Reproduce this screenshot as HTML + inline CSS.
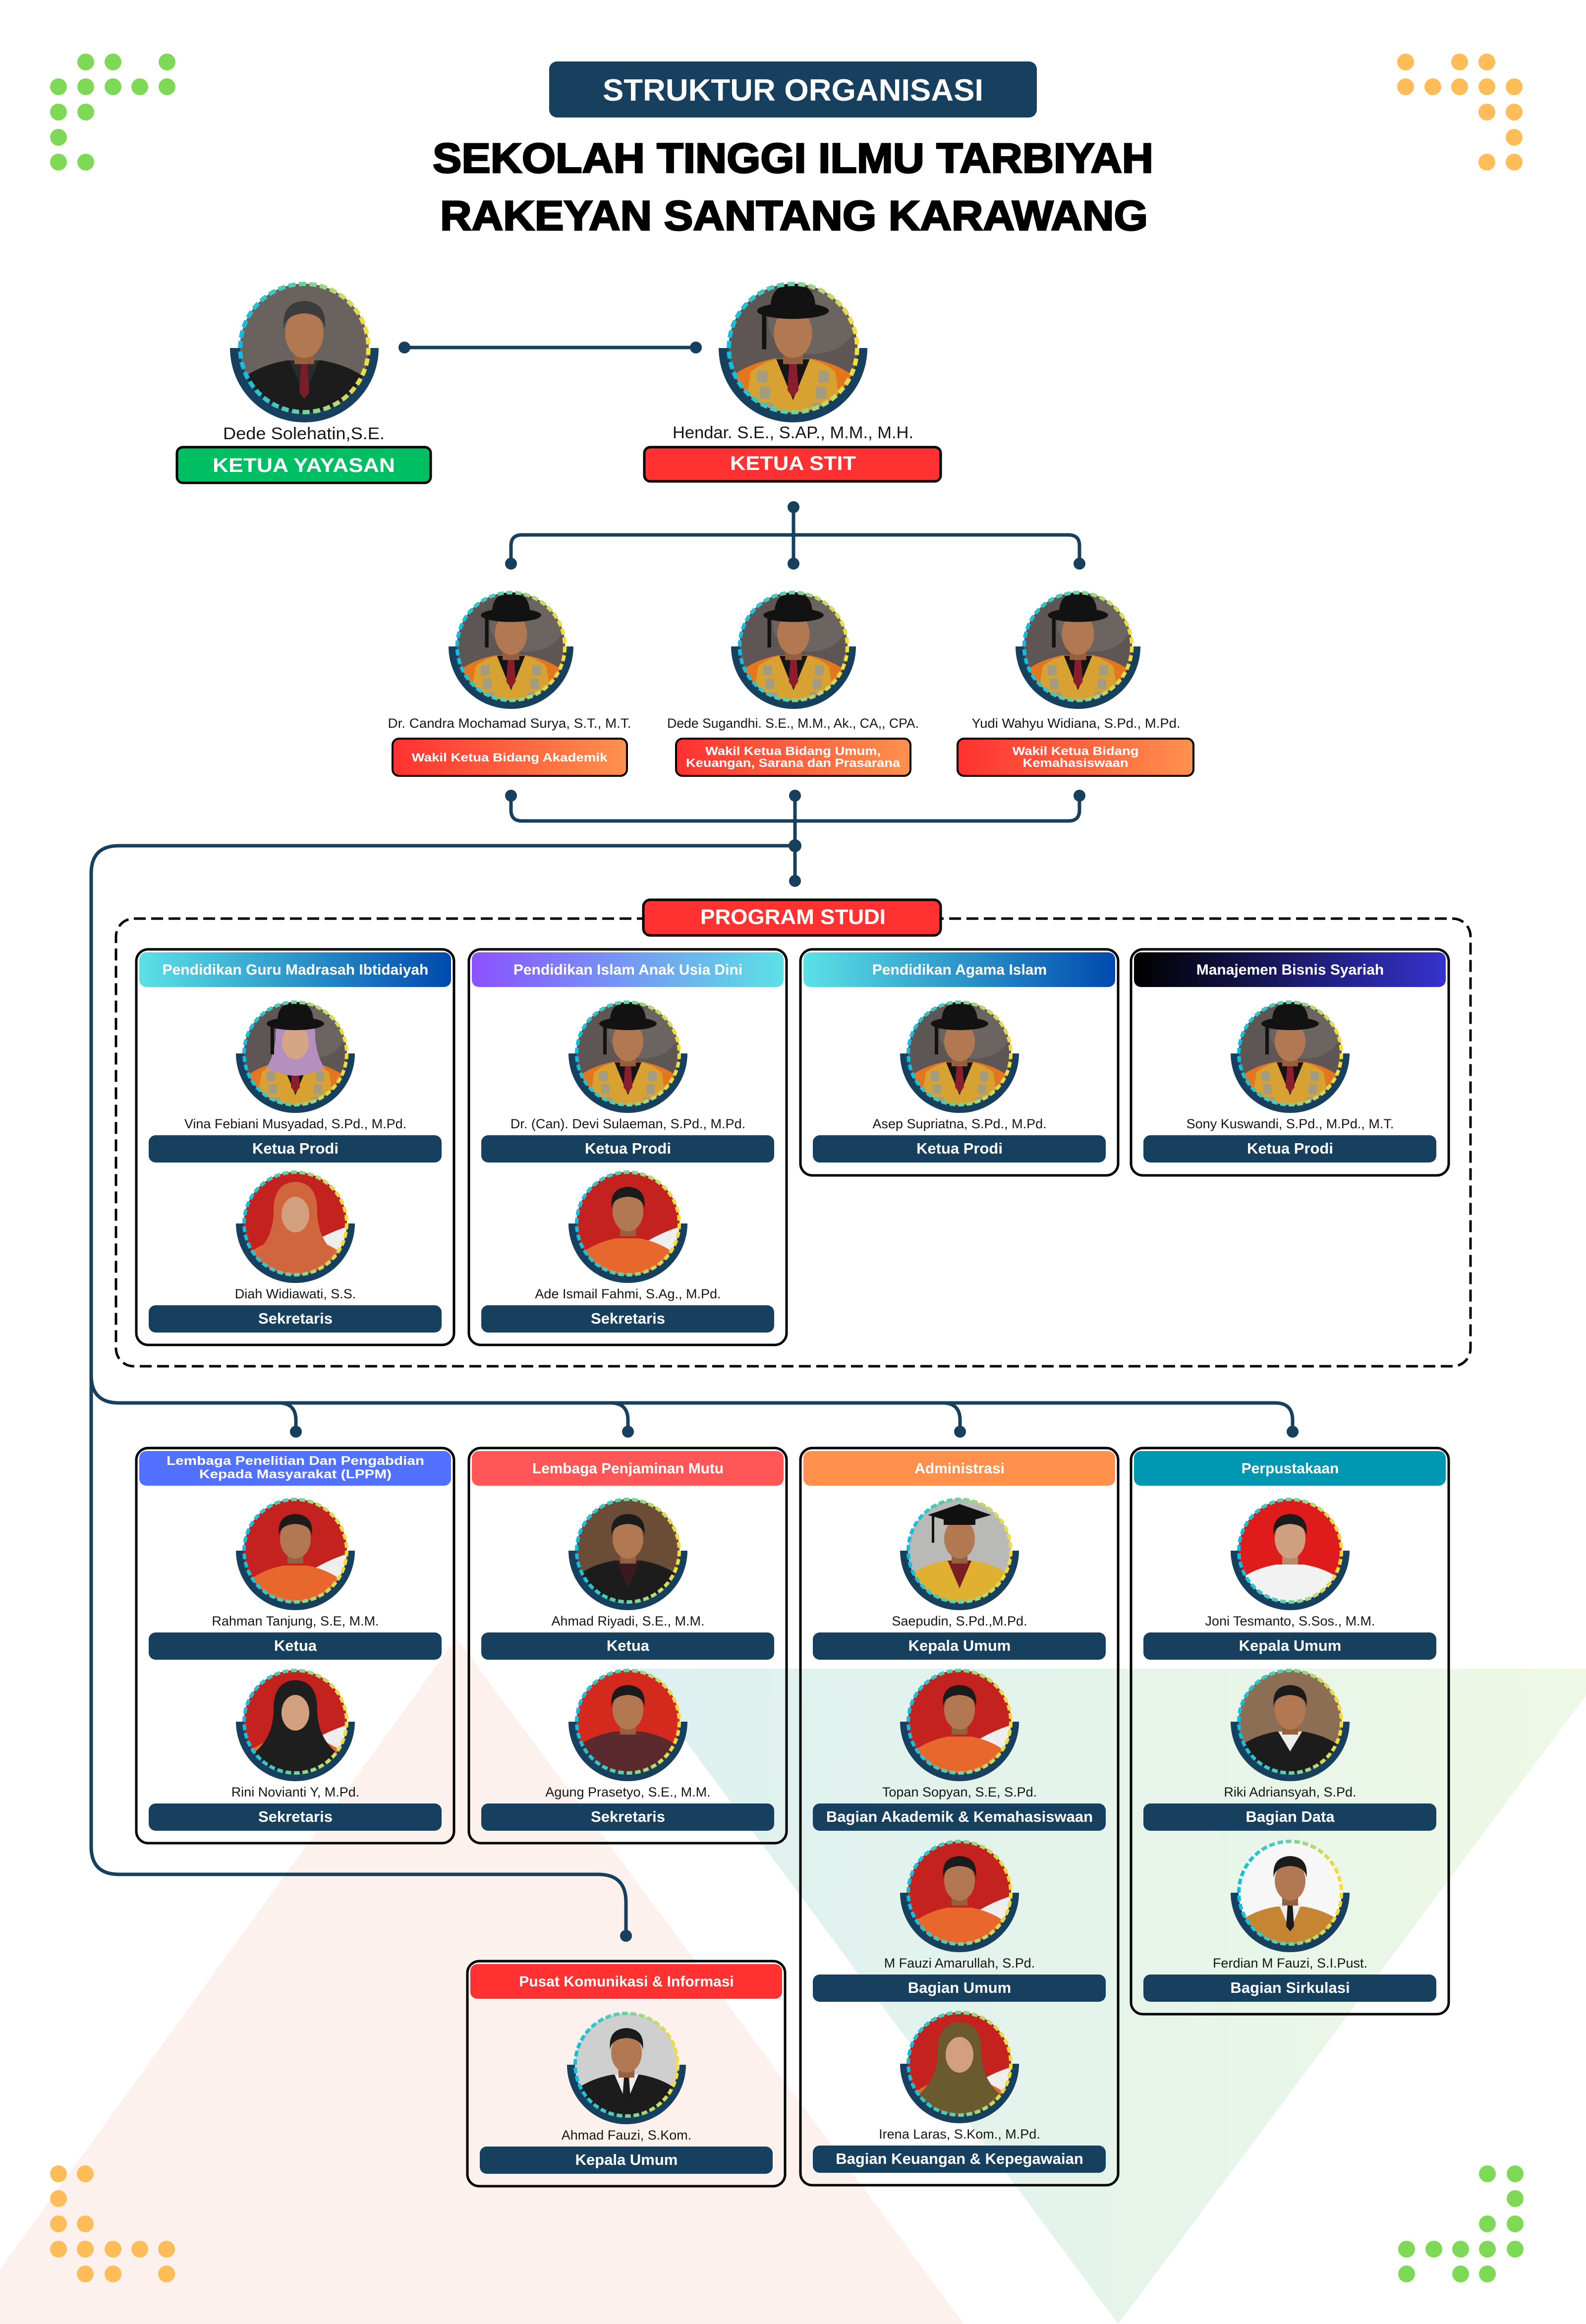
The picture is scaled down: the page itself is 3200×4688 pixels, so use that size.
<!DOCTYPE html>
<html><head><meta charset="utf-8"><title>Struktur Organisasi</title>
<style>html,body{margin:0;padding:0;background:#fff}svg{display:block}
.nm{font-size:27px;fill:#151515;text-anchor:middle}
.pt{font-size:31px;font-weight:700;fill:#fff;text-anchor:middle}
.ht{font-size:30px;font-weight:700;fill:#fff;text-anchor:middle}
.ln{fill:none;stroke:#16405e;stroke-width:7;stroke-linecap:round;stroke-linejoin:round}
.dt{fill:#16405e}
.cd{fill:none;stroke:#000;stroke-width:5}
.pl{fill:#16405e}
.gd{fill:#7ed957}.od{fill:#ffbd59}
</style></head>
<body>
<svg width="3200" height="4688" viewBox="0 0 3200 4688" xmlns="http://www.w3.org/2000/svg" xmlns:xlink="http://www.w3.org/1999/xlink" font-family="'Liberation Sans', sans-serif">
<defs>
<linearGradient id="g1" x1="0" y1="0" x2="1" y2="0"><stop offset="0" stop-color="#5ce1e6"/><stop offset="1" stop-color="#004aad"/></linearGradient>
<linearGradient id="g2" x1="0" y1="0" x2="1" y2="0"><stop offset="0" stop-color="#8c52ff"/><stop offset="1" stop-color="#5ce1e6"/></linearGradient>
<linearGradient id="g3" x1="0" y1="0" x2="1" y2="0"><stop offset="0" stop-color="#000000"/><stop offset="1" stop-color="#3533cd"/></linearGradient>
<linearGradient id="gw" x1="0" y1="0" x2="1" y2="0"><stop offset="0" stop-color="#ff3131"/><stop offset="1" stop-color="#ff914d"/></linearGradient>
<linearGradient id="gt" gradientUnits="userSpaceOnUse" x1="1275" y1="0" x2="3240" y2="0"><stop offset="0" stop-color="#ddf0f0"/><stop offset="1" stop-color="#eef8e5"/></linearGradient>
<linearGradient id="rgr" x1="0" y1="0" x2="1" y2="0"><stop offset="0" stop-color="#10bde0"/><stop offset="0.45" stop-color="#5fd0ac"/><stop offset="0.72" stop-color="#b6da70"/><stop offset="1" stop-color="#f8dc3a"/></linearGradient>
<clipPath id="cp"><circle r="104"/></clipPath>
<path id="nv" d="M-120 0A120 120 0 0 0 120 0L100 0A100 100 0 0 1 -100 0Z" fill="#16405e"/>
<circle id="rg" r="103.5" fill="none" stroke="url(#rgr)" stroke-width="7" stroke-dasharray="11.5 5.6"/>
<g id="bgd"><rect x="-110" y="-110" width="220" height="220" fill="#5e5654"/><ellipse cx="30" cy="-40" rx="70" ry="50" fill="#6c6461"/></g>
<g id="robe">
<path d="M-120 115L-104 50Q-76 26-30 17H30Q76 26 104 50L120 115Z" fill="#e3761f"/>
<path d="M-80 115L-68 38Q-48 22-26 18H26Q48 22 68 38L80 115Z" fill="#d8a233"/>
<path d="M-27 18L0 84L27 18Z" fill="#151515"/>
<path d="M-6 24H6L9 68L0 80L-9 68Z" fill="#8b1e2c"/>
<g fill="#a49c80"><rect x="-58" y="36" width="17" height="20" rx="3"/><rect x="-54" y="62" width="17" height="20" rx="3"/><rect x="-48" y="88" width="17" height="20" rx="3"/><rect x="41" y="36" width="17" height="20" rx="3"/><rect x="37" y="62" width="17" height="20" rx="3"/><rect x="31" y="88" width="17" height="20" rx="3"/></g>
</g>
<g id="headM"><rect x="-16" y="-6" width="32" height="32" fill="#94603f"/><ellipse cx="0" cy="-24" rx="31" ry="40" fill="#b27852"/></g>
<path id="hairM" d="M-33-30Q-38-72 0-74Q38-72 33-30Q31-52 0-54Q-31-52-33-30Z" fill="#1b1b1b"/>
<g id="hat"><ellipse cx="0" cy="-60" rx="58" ry="13" fill="#121212"/><path d="M-36-62Q-38-102 0-104Q38-102 36-62Z" fill="#121212"/><rect x="-50" y="-60" width="7" height="62" fill="#121212"/></g>
<path id="suit" d="M-120 115L-104 52Q-74 28-28 20H28Q74 28 104 52L120 115Z" fill="#1c1c1c"/>
<path id="shW" d="M-24 20L0 76L24 20Z" fill="#ececec"/>
<path id="tie" d="M-5 24H5L8 68L0 78L-8 68Z" fill="#1a1a1a"/>
<g id="bgf"><rect x="-110" y="-110" width="220" height="220" fill="#c4221e"/><path d="M40 35Q75 15 110 5V115H50Z" fill="#eeeeee"/><path d="M-110 60Q-80 48-55 55L-50 115H-110Z" fill="#eeeeee"/></g>
<path id="shO" d="M-110 115L-96 62Q-66 38-24 30H24Q66 38 96 62L110 115Z" fill="#e8672d"/>
<path id="hij" d="M-44-20Q-46-82 0-84Q46-82 44-20Q46 30 80 60L90 115H-90L-80 60Q-46 30-44-20Z" fill="currentColor"/>
<ellipse id="faceF" cx="0" cy="-18" rx="28" ry="36" fill="#d2a07e"/>
<g id="pRobe"><use href="#bgd"/><use href="#robe"/><use href="#headM"/><use href="#hat"/></g>
<g id="pRobeF"><use href="#bgd"/><use href="#robe"/><path d="M-40-30Q-42-80 0-80Q42-80 40-30Q44 10 60 30L30 40Q0 50-30 40L-60 30Q-44 10-40-30Z" fill="#b58fbf"/><ellipse cx="0" cy="-22" rx="27" ry="34" fill="#d6a585"/><use href="#hat"/></g>
<g id="pDede"><rect x="-110" y="-110" width="220" height="220" fill="#6a625e"/><use href="#suit"/><path d="M-24 20L0 76L24 20Z" fill="#2a2a2a"/><path d="M-5 24H5L8 72L0 82L-8 72Z" fill="#7a1d2b"/><use href="#headM"/><path d="M-33-30Q-38-74 0-76Q38-74 33-30Q31-54 0-56Q-31-54-33-30Z" fill="#3c3c3c"/></g>
<g id="pFlagM"><use href="#bgf"/><use href="#shO"/><use href="#headM"/><use href="#hairM"/></g>
<g id="pFlagH"><use href="#bgf"/><use href="#shO"/><use href="#hij"/><use href="#faceF"/></g>
<g id="pAgung"><rect x="-110" y="-110" width="220" height="220" fill="#d42a1e"/><path d="M-120 115L-104 52Q-74 28-28 20H28Q74 28 104 52L120 115Z" fill="#5a2a2e"/><use href="#headM"/><use href="#hairM"/></g>
<g id="pJoni"><rect x="-110" y="-110" width="220" height="220" fill="#e01b1b"/><path d="M-120 115L-104 60Q-74 36-28 28H28Q74 36 104 60L120 115Z" fill="#f2f2f2"/><rect x="-16" y="-6" width="32" height="34" fill="#b98a6c"/><ellipse cx="0" cy="-24" rx="31" ry="40" fill="#cf9f80"/><use href="#hairM"/></g>
<g id="pRiyadi"><rect x="-110" y="-110" width="220" height="220" fill="#6b4c36"/><use href="#suit"/><path d="M-24 20L0 76L24 20Z" fill="#3a1a1e"/><use href="#headM"/><use href="#hairM"/></g>
<g id="pSaep"><rect x="-110" y="-110" width="220" height="220" fill="#b9b9b7"/><path d="M-120 115L-104 52Q-74 28-28 20H28Q74 28 104 52L120 115Z" fill="#e0b030"/><path d="M-24 20L0 76L24 20Z" fill="#7a1e22"/><use href="#headM"/><rect x="-32" y="-74" width="64" height="22" fill="#111"/><path d="M-64-72L0-94L64-72L0-54Z" fill="#111"/><rect x="-56" y="-72" width="5" height="56" fill="#111"/></g>
<g id="pRiki"><rect x="-110" y="-110" width="220" height="220" fill="#8c6e55"/><use href="#suit"/><path d="M-24 20L0 60L24 20Z" fill="#ececec"/><use href="#headM"/><use href="#hairM"/></g>
<g id="pFerdian"><rect x="-110" y="-110" width="220" height="220" fill="#f7f7f7"/><path d="M-120 115L-104 60Q-74 36-28 28H28Q74 36 104 60L120 115Z" fill="#c58532"/><use href="#shW"/><use href="#tie"/><use href="#headM"/><use href="#hairM"/></g>
<g id="pAhmadF"><rect x="-110" y="-110" width="220" height="220" fill="#cfcfcf"/><use href="#suit"/><use href="#shW"/><use href="#tie"/><use href="#headM"/><use href="#hairM"/></g>
</defs>

<rect width="3200" height="4688" fill="#ffffff"/>
<polygon points="921,3304 -80,4688 1945,4688" fill="#fdf1ee"/>
<polygon points="1275,3366 3240,3366 2256,4688" fill="url(#gt)"/>

<!-- corner dots -->
<g class="gd">
<circle cx="173" cy="125" r="17"/><circle cx="228" cy="125" r="17"/><circle cx="337" cy="125" r="17"/>
<circle cx="118" cy="175" r="17"/><circle cx="173" cy="175" r="17"/><circle cx="228" cy="175" r="17"/><circle cx="282" cy="175" r="17"/><circle cx="337" cy="175" r="17"/>
<circle cx="118" cy="226" r="17"/><circle cx="173" cy="226" r="17"/>
<circle cx="118" cy="277" r="17"/>
<circle cx="118" cy="327" r="17"/><circle cx="173" cy="327" r="17"/>
<circle cx="3001" cy="4385" r="17"/><circle cx="3057" cy="4385" r="17"/>
<circle cx="3057" cy="4435" r="17"/>
<circle cx="3001" cy="4486" r="17"/><circle cx="3057" cy="4486" r="17"/>
<circle cx="2838" cy="4537" r="17"/><circle cx="2893" cy="4537" r="17"/><circle cx="2947" cy="4537" r="17"/><circle cx="3001" cy="4537" r="17"/><circle cx="3057" cy="4537" r="17"/>
<circle cx="2838" cy="4587" r="17"/><circle cx="2947" cy="4587" r="17"/><circle cx="3001" cy="4587" r="17"/>
</g>
<g class="od">
<circle cx="2836" cy="125" r="17"/><circle cx="2945" cy="125" r="17"/><circle cx="3000" cy="125" r="17"/>
<circle cx="2836" cy="175" r="17"/><circle cx="2891" cy="175" r="17"/><circle cx="2945" cy="175" r="17"/><circle cx="3000" cy="175" r="17"/><circle cx="3055" cy="175" r="17"/>
<circle cx="3000" cy="226" r="17"/><circle cx="3055" cy="226" r="17"/>
<circle cx="3055" cy="277" r="17"/>
<circle cx="3000" cy="327" r="17"/><circle cx="3055" cy="327" r="17"/>
<circle cx="118" cy="4385" r="17"/><circle cx="172" cy="4385" r="17"/>
<circle cx="118" cy="4435" r="17"/>
<circle cx="118" cy="4486" r="17"/><circle cx="172" cy="4486" r="17"/>
<circle cx="118" cy="4537" r="17"/><circle cx="172" cy="4537" r="17"/><circle cx="228" cy="4537" r="17"/><circle cx="282" cy="4537" r="17"/><circle cx="336" cy="4537" r="17"/>
<circle cx="172" cy="4587" r="17"/><circle cx="228" cy="4587" r="17"/><circle cx="336" cy="4587" r="17"/>
</g>

<!-- title -->
<rect x="1108" y="124" width="984" height="113" rx="16" fill="#16405e"/>
<text x="1600" y="203" font-size="62" font-weight="700" fill="#fff" text-anchor="middle" textLength="768" lengthAdjust="spacingAndGlyphs">STRUKTUR ORGANISASI</text>
<text x="1600" y="348" font-size="84" font-weight="700" fill="#000" stroke="#000" stroke-width="3" text-anchor="middle" textLength="1454" lengthAdjust="spacingAndGlyphs">SEKOLAH TINGGI ILMU TARBIYAH</text>
<text x="1602" y="464" font-size="84" font-weight="700" fill="#000" stroke="#000" stroke-width="3" text-anchor="middle" textLength="1428" lengthAdjust="spacingAndGlyphs">RAKEYAN SANTANG KARAWANG</text>

<!-- connectors -->
<path class="ln" d="M816 701H1404"/>
<path class="ln" d="M1601 1023V1137"/>
<path class="ln" d="M1031 1137V1101Q1031 1079 1053 1079H2156Q2178 1079 2178 1101V1137"/>
<path class="ln" d="M1031 1605V1634Q1031 1656 1053 1656H2156Q2178 1656 2178 1634V1605"/>
<path class="ln" d="M1604 1605V1777"/>
<path class="ln" d="M1604 1706H240Q184 1706 184 1762V3725Q184 3781 240 3781H1207Q1263 3781 1263 3837V3905"/>
<path class="ln" d="M184 2774Q184 2830 240 2830H2573Q2608 2830 2608 2865V2888"/>
<path class="ln" d="M562 2830Q597 2830 597 2865V2888"/>
<path class="ln" d="M1232 2830Q1267 2830 1267 2865V2888"/>
<path class="ln" d="M1902 2830Q1937 2830 1937 2865V2888"/>
<g class="dt">
<circle cx="816" cy="701" r="12"/><circle cx="1404" cy="701" r="12"/>
<circle cx="1601" cy="1023" r="12"/><circle cx="1601" cy="1137" r="12"/>
<circle cx="1031" cy="1137" r="12"/><circle cx="2178" cy="1137" r="12"/>
<circle cx="1031" cy="1605" r="12"/><circle cx="1604" cy="1605" r="12"/><circle cx="2178" cy="1605" r="12"/>
<circle cx="1604" cy="1706" r="13"/><circle cx="1604" cy="1777" r="12"/>
<circle cx="597" cy="2888" r="12"/><circle cx="1267" cy="2888" r="12"/><circle cx="1937" cy="2888" r="12"/><circle cx="2608" cy="2888" r="12"/>
<circle cx="1263" cy="3905" r="12"/>
</g>

<!-- top row -->
<g transform="translate(614 702) scale(1.25)"><use href="#nv"/><g clip-path="url(#cp)"><use href="#pDede"/></g><use href="#rg"/></g>
<g transform="translate(1600 702) scale(1.25)"><use href="#nv"/><g clip-path="url(#cp)"><use href="#pRobe"/></g><use href="#rg"/></g>
<text x="613" y="886" font-size="34" fill="#151515" text-anchor="middle" textLength="326" lengthAdjust="spacingAndGlyphs">Dede Solehatin,S.E.</text>
<text x="1600" y="884" font-size="34" fill="#151515" text-anchor="middle" textLength="486" lengthAdjust="spacingAndGlyphs">Hendar. S.E., S.AP., M.M., M.H.</text>
<rect x="357" y="902" width="512" height="72" rx="12" fill="#00bf63" stroke="#000" stroke-width="5"/>
<text x="613" y="952" font-size="40" font-weight="700" fill="#fff" text-anchor="middle" textLength="368" lengthAdjust="spacingAndGlyphs">KETUA YAYASAN</text>
<rect x="1300" y="902" width="598" height="69" rx="12" fill="#ff3131" stroke="#000" stroke-width="5"/>
<text x="1600" y="948" font-size="40" font-weight="700" fill="#fff" text-anchor="middle" textLength="254" lengthAdjust="spacingAndGlyphs">KETUA STIT</text>

<!-- wakil row -->
<g transform="translate(1031 1304) scale(1.05)"><use href="#nv"/><g clip-path="url(#cp)"><use href="#pRobe"/></g><use href="#rg"/></g>
<g transform="translate(1601 1304) scale(1.05)"><use href="#nv"/><g clip-path="url(#cp)"><use href="#pRobe"/></g><use href="#rg"/></g>
<g transform="translate(2175 1304) scale(1.05)"><use href="#nv"/><g clip-path="url(#cp)"><use href="#pRobe"/></g><use href="#rg"/></g>
<text x="1028" y="1468" class="nm" textLength="491" lengthAdjust="spacingAndGlyphs">Dr. Candra Mochamad Surya, S.T., M.T.</text>
<text x="1600" y="1468" class="nm" textLength="508" lengthAdjust="spacingAndGlyphs">Dede Sugandhi. S.E., M.M., Ak., CA,, CPA.</text>
<text x="2171" y="1468" class="nm" textLength="421" lengthAdjust="spacingAndGlyphs">Yudi Wahyu Widiana, S.Pd., M.Pd.</text>
<rect x="792" y="1490" width="473" height="75" rx="13" fill="url(#gw)" stroke="#000" stroke-width="4"/>
<rect x="1364" y="1490" width="473" height="75" rx="13" fill="url(#gw)" stroke="#000" stroke-width="4"/>
<rect x="1932" y="1490" width="476" height="75" rx="13" fill="url(#gw)" stroke="#000" stroke-width="4"/>
<g font-size="24" font-weight="700" fill="#fff" text-anchor="middle">
<text x="1028" y="1536" textLength="395" lengthAdjust="spacingAndGlyphs">Wakil Ketua Bidang Akademik</text>
<text x="1600" y="1523" textLength="354" lengthAdjust="spacingAndGlyphs">Wakil Ketua Bidang Umum,</text>
<text x="1600" y="1547" textLength="432" lengthAdjust="spacingAndGlyphs">Keuangan, Sarana dan Prasarana</text>
<text x="2170" y="1523" textLength="255" lengthAdjust="spacingAndGlyphs">Wakil Ketua Bidang</text>
<text x="2170" y="1547" textLength="213" lengthAdjust="spacingAndGlyphs">Kemahasiswaan</text>
</g>

<!-- program studi -->
<rect x="234" y="1853" width="2733" height="903" rx="36" fill="none" stroke="#000" stroke-width="5" stroke-dasharray="24 11"/>
<rect x="1298" y="1815" width="600" height="72" rx="14" fill="#ff3131" stroke="#000" stroke-width="5"/>
<text x="1600" y="1864" font-size="43" font-weight="700" fill="#fff" text-anchor="middle" textLength="374" lengthAdjust="spacingAndGlyphs">PROGRAM STUDI</text>

<!-- card headers -->
<rect x="281" y="1921" width="629" height="70" rx="14" fill="url(#g1)"/>
<rect x="952" y="1921" width="629" height="70" rx="14" fill="url(#g2)"/>
<rect x="1621" y="1921" width="629" height="70" rx="14" fill="url(#g1)"/>
<rect x="2288" y="1921" width="629" height="70" rx="14" fill="url(#g3)"/>
<rect x="281" y="2927" width="629" height="70" rx="14" fill="#5271ff"/>
<rect x="952" y="2927" width="629" height="70" rx="14" fill="#ff5757"/>
<rect x="1621" y="2927" width="629" height="70" rx="14" fill="#ff914d"/>
<rect x="2288" y="2927" width="629" height="70" rx="14" fill="#0097b2"/>
<rect x="949" y="3962" width="629" height="70" rx="14" fill="#ff3131"/>
<!-- card borders -->
<rect class="cd" x="275" y="1915" width="641" height="798" rx="24"/>
<rect class="cd" x="946" y="1915" width="641" height="798" rx="24"/>
<rect class="cd" x="1615" y="1915" width="641" height="456" rx="24"/>
<rect class="cd" x="2282" y="1915" width="641" height="456" rx="24"/>
<rect class="cd" x="275" y="2921" width="641" height="797" rx="24"/>
<rect class="cd" x="946" y="2921" width="641" height="797" rx="24"/>
<rect class="cd" x="1615" y="2921" width="641" height="1487" rx="24"/>
<rect class="cd" x="2282" y="2921" width="641" height="1142" rx="24"/>
<rect class="cd" x="943" y="3956" width="641" height="454" rx="24"/>
<!-- header texts -->
<text class="ht" x="596" y="1966">Pendidikan Guru Madrasah Ibtidaiyah</text>
<text class="ht" x="1267" y="1966">Pendidikan Islam Anak Usia Dini</text>
<text class="ht" x="1936" y="1966">Pendidikan Agama Islam</text>
<text class="ht" x="2603" y="1966">Manajemen Bisnis Syariah</text>
<text x="596" y="2955" font-size="25" font-weight="700" fill="#fff" text-anchor="middle" textLength="520" lengthAdjust="spacingAndGlyphs">Lembaga Penelitian Dan Pengabdian</text>
<text x="596" y="2982" font-size="25" font-weight="700" fill="#fff" text-anchor="middle" textLength="388" lengthAdjust="spacingAndGlyphs">Kepada Masyarakat (LPPM)</text>
<text class="ht" x="1267" y="2972" textLength="386" lengthAdjust="spacingAndGlyphs">Lembaga Penjaminan Mutu</text>
<text class="ht" x="1936" y="2972">Administrasi</text>
<text class="ht" x="2603" y="2972">Perpustakaan</text>
<text class="ht" x="1264" y="4007">Pusat Komunikasi &amp; Informasi</text>

<!-- portraits in cards -->
<g transform="translate(596 2125)"><use href="#nv"/><g clip-path="url(#cp)"><use href="#pRobeF"/></g><use href="#rg"/></g>
<g transform="translate(596 2468)"><use href="#nv"/><g clip-path="url(#cp)"><use href="#pFlagH" style="color:#d0653e"/></g><use href="#rg"/></g>
<g transform="translate(1267 2125)"><use href="#nv"/><g clip-path="url(#cp)"><use href="#pRobe"/></g><use href="#rg"/></g>
<g transform="translate(1267 2468)"><use href="#nv"/><g clip-path="url(#cp)"><use href="#pFlagM"/></g><use href="#rg"/></g>
<g transform="translate(1936 2125)"><use href="#nv"/><g clip-path="url(#cp)"><use href="#pRobe"/></g><use href="#rg"/></g>
<g transform="translate(2603 2125)"><use href="#nv"/><g clip-path="url(#cp)"><use href="#pRobe"/></g><use href="#rg"/></g>

<g transform="translate(596 3128)"><use href="#nv"/><g clip-path="url(#cp)"><use href="#pFlagM"/></g><use href="#rg"/></g>
<g transform="translate(596 3473)"><use href="#nv"/><g clip-path="url(#cp)"><use href="#pFlagH" style="color:#1e1e1e"/></g><use href="#rg"/></g>
<g transform="translate(1267 3128)"><use href="#nv"/><g clip-path="url(#cp)"><use href="#pRiyadi"/></g><use href="#rg"/></g>
<g transform="translate(1267 3473)"><use href="#nv"/><g clip-path="url(#cp)"><use href="#pAgung"/></g><use href="#rg"/></g>
<g transform="translate(1936 3128)"><use href="#nv"/><g clip-path="url(#cp)"><use href="#pSaep"/></g><use href="#rg"/></g>
<g transform="translate(1936 3473)"><use href="#nv"/><g clip-path="url(#cp)"><use href="#pFlagM"/></g><use href="#rg"/></g>
<g transform="translate(1936 3818)"><use href="#nv"/><g clip-path="url(#cp)"><use href="#pFlagM"/></g><use href="#rg"/></g>
<g transform="translate(1936 4163)"><use href="#nv"/><g clip-path="url(#cp)"><use href="#pFlagH" style="color:#6a5a2e"/></g><use href="#rg"/></g>
<g transform="translate(2603 3128)"><use href="#nv"/><g clip-path="url(#cp)"><use href="#pJoni"/></g><use href="#rg"/></g>
<g transform="translate(2603 3473)"><use href="#nv"/><g clip-path="url(#cp)"><use href="#pRiki"/></g><use href="#rg"/></g>
<g transform="translate(2603 3818)"><use href="#nv"/><g clip-path="url(#cp)"><use href="#pFerdian"/></g><use href="#rg"/></g>
<g transform="translate(1264 4165)"><use href="#nv"/><g clip-path="url(#cp)"><use href="#pAhmadF"/></g><use href="#rg"/></g>

<!-- pills -->
<g class="pl">
<rect x="300" y="2290" width="591" height="55" rx="14"/><rect x="300" y="2633" width="591" height="55" rx="14"/>
<rect x="971" y="2290" width="591" height="55" rx="14"/><rect x="971" y="2633" width="591" height="55" rx="14"/>
<rect x="1640" y="2290" width="591" height="55" rx="14"/>
<rect x="2307" y="2290" width="591" height="55" rx="14"/>
<rect x="300" y="3293" width="591" height="55" rx="14"/><rect x="300" y="3638" width="591" height="55" rx="14"/>
<rect x="971" y="3293" width="591" height="55" rx="14"/><rect x="971" y="3638" width="591" height="55" rx="14"/>
<rect x="1640" y="3293" width="591" height="55" rx="14"/><rect x="1640" y="3638" width="591" height="55" rx="14"/><rect x="1640" y="3983" width="591" height="55" rx="14"/><rect x="1640" y="4328" width="591" height="55" rx="14"/>
<rect x="2307" y="3293" width="591" height="55" rx="14"/><rect x="2307" y="3638" width="591" height="55" rx="14"/><rect x="2307" y="3983" width="591" height="55" rx="14"/>
<rect x="968" y="4330" width="591" height="55" rx="14"/>
</g>

<!-- names -->
<text class="nm" x="596" y="2276">Vina Febiani Musyadad, S.Pd., M.Pd.</text>
<text class="nm" x="596" y="2619">Diah Widiawati, S.S.</text>
<text class="nm" x="1267" y="2276">Dr. (Can). Devi Sulaeman, S.Pd., M.Pd.</text>
<text class="nm" x="1267" y="2619">Ade Ismail Fahmi, S.Ag., M.Pd.</text>
<text class="nm" x="1936" y="2276">Asep Supriatna, S.Pd., M.Pd.</text>
<text class="nm" x="2603" y="2276">Sony Kuswandi, S.Pd., M.Pd., M.T.</text>
<text class="nm" x="596" y="3279">Rahman Tanjung, S.E, M.M.</text>
<text class="nm" x="596" y="3624">Rini Novianti Y, M.Pd.</text>
<text class="nm" x="1267" y="3279">Ahmad Riyadi, S.E., M.M.</text>
<text class="nm" x="1267" y="3624">Agung Prasetyo, S.E., M.M.</text>
<text class="nm" x="1936" y="3279">Saepudin, S.Pd.,M.Pd.</text>
<text class="nm" x="1936" y="3624">Topan Sopyan, S.E, S.Pd.</text>
<text class="nm" x="1936" y="3969">M Fauzi Amarullah, S.Pd.</text>
<text class="nm" x="1936" y="4314">Irena Laras, S.Kom., M.Pd.</text>
<text class="nm" x="2603" y="3279">Joni Tesmanto, S.Sos., M.M.</text>
<text class="nm" x="2603" y="3624">Riki Adriansyah, S.Pd.</text>
<text class="nm" x="2603" y="3969">Ferdian M Fauzi, S.I.Pust.</text>
<text class="nm" x="1264" y="4316">Ahmad Fauzi, S.Kom.</text>

<!-- pill texts -->
<text class="pt" x="596" y="2327">Ketua Prodi</text>
<text class="pt" x="596" y="2670">Sekretaris</text>
<text class="pt" x="1267" y="2327">Ketua Prodi</text>
<text class="pt" x="1267" y="2670">Sekretaris</text>
<text class="pt" x="1936" y="2327">Ketua Prodi</text>
<text class="pt" x="2603" y="2327">Ketua Prodi</text>
<text class="pt" x="596" y="3330">Ketua</text>
<text class="pt" x="596" y="3675">Sekretaris</text>
<text class="pt" x="1267" y="3330">Ketua</text>
<text class="pt" x="1267" y="3675">Sekretaris</text>
<text class="pt" x="1936" y="3330">Kepala Umum</text>
<text class="pt" x="1936" y="3675">Bagian Akademik &amp; Kemahasiswaan</text>
<text class="pt" x="1936" y="4020">Bagian Umum</text>
<text class="pt" x="1936" y="4365">Bagian Keuangan &amp; Kepegawaian</text>
<text class="pt" x="2603" y="3330">Kepala Umum</text>
<text class="pt" x="2603" y="3675">Bagian Data</text>
<text class="pt" x="2603" y="4020">Bagian Sirkulasi</text>
<text class="pt" x="1264" y="4367">Kepala Umum</text>
</svg>
</body></html>
